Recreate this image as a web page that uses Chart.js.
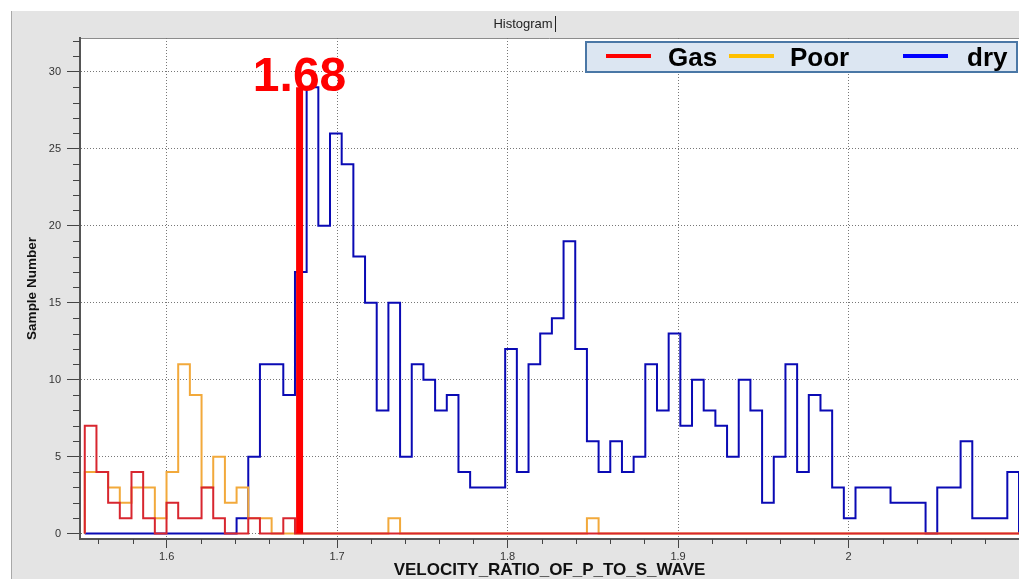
<!DOCTYPE html>
<html>
<head>
<meta charset="utf-8">
<script src="https://cdn.jsdelivr.net/npm/chart.js@4.4.1/dist/chart.umd.min.js"></script>
<style>
  html, body { margin: 0; padding: 0; background: #fff; }
  canvas { display: block; }
</style>
</head>
<body>
<canvas id="histChart" width="1019" height="579"></canvas>
<script>
// 80 equal-width bins of Vp/Vs
const binStart = 1.552;
const binWidth = 0.00685;

const gasCounts = [
  7, 4, 2, 1, 4, 1, 0, 2, 1, 1, 3, 1, 0, 0, 1, 0, 0, 1, 0, 0,
  0, 0, 0, 0, 0, 0, 0, 0, 0, 0, 0, 0, 0, 0, 0, 0, 0, 0, 0, 0,
  0, 0, 0, 0, 0, 0, 0, 0, 0, 0, 0, 0, 0, 0, 0, 0, 0, 0, 0, 0,
  0, 0, 0, 0, 0, 0, 0, 0, 0, 0, 0, 0, 0, 0, 0, 0, 0, 0, 0, 0
];
const poorCounts = [
  4, 4, 3, 2, 3, 3, 1, 4, 11, 9, 3, 5, 2, 3, 1, 1, 0, 0, 0, 0,
  0, 0, 0, 0, 0, 0, 1, 0, 0, 0, 0, 0, 0, 0, 0, 0, 0, 0, 0, 0,
  0, 0, 0, 1, 0, 0, 0, 0, 0, 0, 0, 0, 0, 0, 0, 0, 0, 0, 0, 0,
  0, 0, 0, 0, 0, 0, 0, 0, 0, 0, 0, 0, 0, 0, 0, 0, 0, 0, 0, 0
];
const dryCounts = [
  0, 0, 0, 0, 0, 0, 0, 0, 0, 0, 0, 0, 0, 1, 5, 11, 11, 9, 17, 29,
  20, 26, 24, 18, 15, 8, 15, 5, 11, 10, 8, 9, 4, 3, 3, 3, 12, 4, 11, 13,
  14, 19, 12, 6, 4, 6, 4, 5, 11, 8, 13, 7, 10, 8, 7, 5, 10, 8, 2, 5,
  11, 4, 9, 8, 3, 1, 3, 3, 3, 2, 2, 2, 0, 3, 3, 6, 1, 1, 1, 4
];

const seriesLabels = ['Gas', 'Poor', 'dry'];
const xTickValues = [1.6, 1.7, 1.8, 1.9, 2.0];
const yTickValues = [0, 5, 10, 15, 20, 25, 30];

// Vp/Vs cutoff marker
const cutoffValue = 1.678;
const cutoffTop = 29;

// outline of a histogram: left edge of each bin carries its count
function outline(counts) {
  const pts = [{ x: binStart, y: 0 }];
  counts.forEach((c, i) => pts.push({ x: binStart + i * binWidth, y: c }));
  pts.push({ x: binStart + counts.length * binWidth, y: 0 });
  return pts;
}

const tickFont = { family: '"Liberation Sans", Arial, sans-serif', size: 11 };

const frame = {
  id: 'frame',
  beforeDraw(chart) {
    const { ctx, chartArea: a, width, height } = chart;
    ctx.save();
    ctx.fillStyle = '#ffffff';
    ctx.fillRect(0, 0, width, height);
    ctx.fillStyle = '#e4e4e4';
    ctx.fillRect(11, 11, width - 11, height - 11);
    ctx.strokeStyle = '#a8a8a8';
    ctx.lineWidth = 1;
    ctx.beginPath();
    ctx.moveTo(11.5, 11);
    ctx.lineTo(11.5, height);
    ctx.stroke();
    ctx.fillStyle = '#ffffff';
    ctx.fillRect(a.left, a.top, a.right - a.left, a.bottom - a.top);
    ctx.strokeStyle = '#8c8c8c';
    ctx.beginPath();
    ctx.moveTo(a.left, a.top + 0.5);
    ctx.lineTo(a.right, a.top + 0.5);
    ctx.stroke();
    // panel caption
    ctx.fillStyle = '#222';
    ctx.font = '13px "Liberation Sans", Arial, sans-serif';
    ctx.textAlign = 'center';
    ctx.textBaseline = 'middle';
    ctx.fillText('Histogram', 523, 24);
    const w = ctx.measureText('Histogram').width;
    ctx.strokeStyle = '#222';
    ctx.beginPath();
    ctx.moveTo(Math.round(523 + w / 2) + 2.5, 16);
    ctx.lineTo(Math.round(523 + w / 2) + 2.5, 32);
    ctx.stroke();
    ctx.restore();
  }
};

const minorTicks = {
  id: 'minorTicks',
  afterDraw(chart) {
    const { ctx, scales: { x, y }, chartArea: a } = chart;
    ctx.save();
    ctx.strokeStyle = '#444';
    ctx.lineWidth = 1;
    ctx.beginPath();
    for (let v = 1; v <= 32; v++) {
      if (v % 5 === 0) continue;
      const py = Math.round(y.getPixelForValue(v)) + 0.5;
      ctx.moveTo(a.left - 7, py);
      ctx.lineTo(a.left, py);
    }
    for (let k = 78; k <= 104; k++) {
      if (k % 5 === 0) continue;
      const px = Math.round(x.getPixelForValue(k * 0.02)) + 0.5;
      ctx.moveTo(px, a.bottom);
      ctx.lineTo(px, a.bottom + 5);
    }
    ctx.stroke();
    ctx.restore();
  }
};

const cutoffLabel = {
  id: 'cutoffLabel',
  afterDatasetsDraw(chart) {
    const { ctx, scales: { x, y } } = chart;
    const px = x.getPixelForValue(cutoffValue);
    const py = y.getPixelForValue(cutoffTop);
    ctx.save();
    ctx.fillStyle = '#ff0000';
    ctx.font = 'bold 48px "Liberation Sans", Arial, sans-serif';
    ctx.textAlign = 'center';
    ctx.textBaseline = 'alphabetic';
    ctx.fillText(cutoffValue.toFixed(2), px, py + 4);
    ctx.restore();
  }
};

const boxLegend = {
  id: 'boxLegend',
  afterDraw(chart, args, opts) {
    const { ctx } = chart;
    ctx.save();
    ctx.fillStyle = '#dce6f2';
    ctx.fillRect(586, 42, 431, 30);
    ctx.strokeStyle = '#4a77a6';
    ctx.lineWidth = 2;
    ctx.strokeRect(586, 42, 431, 30);
    ctx.font = 'bold 26px "Liberation Sans", Arial, sans-serif';
    ctx.textAlign = 'left';
    ctx.textBaseline = 'alphabetic';
    ctx.lineWidth = 4;
    opts.items.forEach((it, i) => {
      ctx.strokeStyle = opts.colors[i];
      ctx.beginPath();
      ctx.moveTo(it.line, 56);
      ctx.lineTo(it.line + 45, 56);
      ctx.stroke();
      ctx.fillStyle = '#000';
      ctx.fillText(seriesLabels[i], it.text, 66);
    });
    ctx.restore();
  }
};

new Chart(document.getElementById('histChart'), {
  type: 'line',
  data: {
    datasets: [
      {
        label: 'cutoff',
        data: [{ x: cutoffValue, y: 0 }, { x: cutoffValue, y: cutoffTop }],
        borderColor: '#ff0000',
        borderWidth: 7,
        borderCapStyle: 'butt'
      },
      {
        label: seriesLabels[0],
        data: outline(gasCounts),
        borderColor: '#d8262f',
        borderWidth: 2,
        stepped: true
      },
      {
        label: seriesLabels[1],
        data: outline(poorCounts),
        borderColor: '#f2a93b',
        borderWidth: 2,
        stepped: true
      },
      {
        label: seriesLabels[2],
        data: outline(dryCounts),
        borderColor: '#0a0ab4',
        borderWidth: 2,
        stepped: true
      }
    ]
  },
  options: {
    responsive: false,
    animation: false,
    devicePixelRatio: 1,
    layout: { padding: { top: 38, left: 0, right: 0, bottom: 0 } },
    elements: { point: { radius: 0 }, line: { tension: 0, fill: false } },
    plugins: {
      legend: { display: false },
      tooltip: { enabled: false },
      boxLegend: {
        colors: ['#ff0000', '#ffc000', '#0000ff'],
        items: [{ line: 606, text: 668 }, { line: 729, text: 790 }, { line: 903, text: 967 }]
      }
    },
    scales: {
      x: {
        type: 'linear',
        min: 1.5492,
        max: 2.1,
        afterBuildTicks: s => { s.ticks = xTickValues.map(v => ({ value: v })); },
        afterFit: s => { s.height = 40; },
        ticks: {
          callback: v => String(+v.toFixed(2)),
          font: tickFont,
          color: '#333',
          padding: 2,
          maxRotation: 0,
          autoSkip: false
        },
        grid: { color: '#777', lineWidth: 1, tickLength: 9, tickColor: '#444' },
        border: { display: true, color: '#555', width: 2, dash: [1, 2] },
        title: {
          display: true,
          text: 'VELOCITY_RATIO_OF_P_TO_S_WAVE',
          color: '#111',
          font: { family: '"Liberation Sans", Arial, sans-serif', size: 17, weight: 'bold', lineHeight: 1 },
          padding: { top: 0, bottom: 0 }
        }
      },
      y: {
        type: 'linear',
        min: -0.35,
        max: 32.2,
        afterBuildTicks: s => { s.ticks = yTickValues.map(v => ({ value: v })); },
        afterFit: s => { s.width = 80; },
        ticks: { font: tickFont, color: '#333', padding: 6 },
        grid: { color: '#777', lineWidth: 1, tickLength: 13, tickColor: '#444' },
        border: { display: true, color: '#555', width: 2, dash: [1, 2] },
        title: {
          display: true,
          text: 'Sample Number',
          color: '#111',
          font: { family: '"Liberation Sans", Arial, sans-serif', size: 13.5, weight: 'bold', lineHeight: 1 },
          padding: { top: 26, bottom: 0 }
        }
      }
    }
  },
  plugins: [frame, minorTicks, cutoffLabel, boxLegend]
});
</script>
</body>
</html>
